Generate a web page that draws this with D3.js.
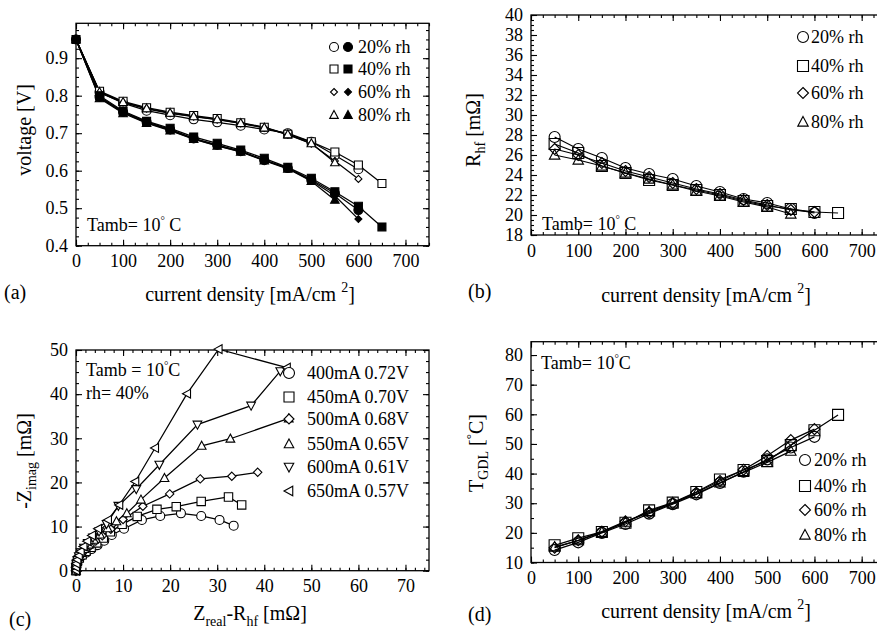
<!DOCTYPE html>
<html><head><meta charset="utf-8">
<script src="https://cdn.jsdelivr.net/npm/d3@7"></script>
<style>
body{margin:0;background:#fff}
svg{display:block}
text{font-family:"Liberation Serif","Times New Roman",serif;fill:#000}
</style>
</head><body>
<svg id="c" width="877" height="634"></svg>
<script>
// ---------------- DATA ----------------
const rhLabels = ["20% rh", "40% rh", "60% rh", "80% rh"];

// Panel (a): polarisation curves, current density [mA/cm2]
const curA = [0, 50, 100, 150, 200, 250, 300, 350, 400, 450, 500, 550, 600, 650];
const vOpen20 = [0.95, 0.810, 0.780, 0.760, 0.748, 0.737, 0.729, 0.720, 0.710, 0.700, 0.677, 0.641, 0.604];
const vOpen40 = [0.95, 0.812, 0.785, 0.768, 0.756, 0.747, 0.739, 0.728, 0.716, 0.697, 0.677, 0.650, 0.615, 0.566];
const vOpen60 = [0.95, 0.808, 0.782, 0.765, 0.753, 0.744, 0.736, 0.726, 0.714, 0.696, 0.672, 0.626, 0.578];
const vOpen80 = [0.95, 0.810, 0.783, 0.766, 0.754, 0.745, 0.737, 0.727, 0.715, 0.697, 0.673, 0.622];
const vFill20 = [0.95, 0.797, 0.757, 0.730, 0.710, 0.686, 0.669, 0.652, 0.628, 0.607, 0.576, 0.540, 0.495];
const vFill40 = [0.95, 0.800, 0.759, 0.732, 0.713, 0.690, 0.673, 0.655, 0.633, 0.609, 0.580, 0.544, 0.505, 0.450];
const vFill60 = [0.95, 0.795, 0.755, 0.728, 0.708, 0.685, 0.667, 0.651, 0.628, 0.606, 0.574, 0.533, 0.471];
const vFill80 = [0.95, 0.793, 0.753, 0.727, 0.707, 0.684, 0.666, 0.650, 0.627, 0.605, 0.572, 0.522];

// Panel (b): high frequency resistance [mOhm]
const curB = [50, 100, 150, 200, 250, 300, 350, 400, 450, 500, 550, 600, 650];
const rhf20 = [27.8, 26.6, 25.7, 24.7, 24.1, 23.6, 22.9, 22.3, 21.6, 21.2, 20.6, 20.2];
const rhf40 = [27.1, 26.2, 24.9, 24.2, 23.5, 23.0, 22.5, 22.0, 21.4, 20.9, 20.6, 20.3, 20.2];
const rhf60 = [26.6, 26.0, 25.2, 24.4, 23.8, 23.2, 22.6, 22.1, 21.5, 21.0, 20.5, 20.3];
const rhf80 = [26.0, 25.5, 24.9, 24.2, 23.6, 23.0, 22.4, 21.9, 21.3, 20.8, 20.1];

// Panel (c): Nyquist plots, rh = 40%
const nyqLabels = ["400mA 0.72V", "450mA 0.70V", "500mA 0.68V", "550mA 0.65V", "600mA 0.61V", "650mA 0.57V"];
const z400Re = [0, 0, 0.1, 0.3, 0.7, 1.3, 2.2, 3.3, 4.6, 6.0, 7.6, 10.2, 14.0, 17.9, 22.3, 26.6, 30.5, 33.5];
const z400Im = [0, 0.7, 1.4, 2.1, 2.8, 3.4, 4.1, 4.9, 5.8, 6.8, 8.1, 9.5, 11.5, 12.4, 13.0, 12.4, 11.5, 10.2];
const z450Re = [0, 0, 0.1, 0.3, 0.7, 1.3, 2.1, 3.2, 4.4, 5.8, 7.3, 9.8, 13.0, 17.2, 21.3, 26.6, 32.4, 35.2];
const z450Im = [0, 0.7, 1.4, 2.1, 2.9, 3.6, 4.4, 5.3, 6.3, 7.4, 8.8, 10.5, 12.3, 13.9, 14.5, 15.7, 16.7, 14.9];
const z500Re = [0, 0, 0.1, 0.3, 0.7, 1.2, 2.0, 3.0, 4.2, 5.6, 7.4, 10.0, 14.2, 19.9, 26.4, 33.1, 38.6];
const z500Im = [0, 0.7, 1.4, 2.2, 3.0, 3.8, 4.7, 5.6, 6.7, 7.9, 9.4, 11.6, 14.6, 17.4, 20.8, 21.4, 22.3];
const z550Re = [0, 0, 0.1, 0.3, 0.6, 1.1, 1.8, 2.7, 3.8, 5.1, 6.7, 8.6, 10.8, 13.8, 18.8, 26.7, 32.8, 45.2];
const z550Im = [0, 0.7, 1.5, 2.3, 3.1, 4.0, 4.9, 5.9, 7.0, 8.2, 9.6, 11.2, 13.0, 16.1, 21.0, 28.3, 29.9, 34.5];
const z600Re = [0, 0, 0.1, 0.3, 0.6, 1.0, 1.7, 2.5, 3.6, 4.9, 6.5, 9.0, 12.8, 17.7, 25.8, 37.2, 43.4];
const z600Im = [0, 0.8, 1.6, 2.4, 3.3, 4.2, 5.2, 6.3, 7.5, 8.9, 10.6, 14.7, 18.5, 24.0, 33.1, 37.4, 45.2];
const z650Re = [0, 0, 0.1, 0.3, 0.6, 1.0, 1.6, 2.4, 3.4, 4.7, 6.8, 9.2, 12.6, 16.8, 23.6, 30.3, 44.8];
const z650Im = [0, 0.8, 1.6, 2.5, 3.4, 4.4, 5.5, 6.7, 8.0, 9.5, 11.5, 14.9, 20.2, 27.8, 40.1, 50.2, 46.0];

// Panel (d): GDL temperature [°C]
const tgdl20 = [14.2, 16.8, 20.0, 23.0, 26.5, 29.7, 33.0, 36.8, 40.6, 44.8, 48.8, 52.4];
const tgdl40 = [15.8, 18.2, 20.3, 23.4, 27.6, 30.2, 33.8, 38.0, 41.2, 44.2, 49.6, 54.6, 59.8];
const tgdl60 = [15.0, 17.5, 20.4, 23.9, 26.8, 30.0, 33.6, 37.5, 41.3, 46.0, 51.3, 55.0];
const tgdl80 = [15.2, 17.4, 20.2, 23.6, 27.2, 30.1, 33.2, 36.9, 40.4, 43.8, 47.6];

// Tick values
const ticksCurrent = [0, 100, 200, 300, 400, 500, 600, 700];
const ticksVolt = [0.4, 0.5, 0.6, 0.7, 0.8, 0.9];
const ticksRhf = [18, 20, 22, 24, 26, 28, 30, 32, 34, 36, 38, 40];
const ticksZre = [0, 10, 20, 30, 40, 50, 60, 70];
const ticksZim = [0, 10, 20, 30, 40, 50];
const ticksT = [10, 20, 30, 40, 50, 60, 70, 80];

// ---------------- DRAWING ----------------
const svg = d3.select("#c");
const FS_TICK = 18, FS_LAB = 20, FS_LEG = 18;

function markerPath(type, s) {
  switch (type) {
    case "square": return `M${-s},${-s}h${2*s}v${2*s}h${-2*s}Z`;
    case "diamond": return `M0,${-s}L${s},0L0,${s}L${-s},0Z`;
    case "up": return `M0,${-s}L${s*0.95},${s*0.75}L${-s*0.95},${s*0.75}Z`;
    case "down": return `M0,${s}L${s*0.95},${-s*0.75}L${-s*0.95},${-s*0.75}Z`;
    case "left": return `M${-s},0L${s*0.75},${-s*0.95}L${s*0.75},${s*0.95}Z`;
  }
}
function drawMarker(g, type, cx, cy, s, fill) {
  if (type === "circle") {
    g.append("circle").attr("cx", cx).attr("cy", cy).attr("r", s)
      .attr("fill", fill).attr("stroke", "#000").attr("stroke-width", 1.1);
  } else {
    g.append("path").attr("d", markerPath(type, s)).attr("transform", `translate(${cx},${cy})`)
      .attr("fill", fill).attr("stroke", "#000").attr("stroke-width", 1.1);
  }
}

function panel(cfg) {
  const x = d3.scaleLinear().domain(cfg.xDomain).range([cfg.left, cfg.right]);
  const y = d3.scaleLinear().domain(cfg.yDomain).range([cfg.bottom, cfg.top]);
  const g = svg.append("g");
  const mk = (axis, tr, vals, size, labels, pad, fmt) => {
    const a = axis.tickValues(vals).tickSize(-size).tickPadding(pad || 8);
    a.tickFormat(labels ? fmt : () => "");
    const ag = g.append("g").attr("transform", tr).call(a);
    ag.select(".domain").remove();
    ag.selectAll("line").attr("stroke-width", 1.1);
    ag.selectAll("text").style("font-size", FS_TICK + "px").attr("font-family", null);
    return ag;
  };
  const xMinor = d3.range(cfg.xDomain[0], cfg.xDomain[1] + 1e-9, cfg.xMinor);
  const yMinor = d3.range(cfg.yDomain[0], cfg.yDomain[1] + 1e-9, cfg.yMinor);
  mk(d3.axisBottom(x), `translate(0,${cfg.bottom})`, xMinor, 3, false);
  mk(d3.axisTop(x), `translate(0,${cfg.top})`, xMinor, 3, false);
  mk(d3.axisLeft(y), `translate(${cfg.left},0)`, yMinor, 3, false);
  mk(d3.axisRight(y), `translate(${cfg.right},0)`, yMinor, 3, false);
  mk(d3.axisBottom(x), `translate(0,${cfg.bottom})`, cfg.xTicks, 6, true, 9, cfg.xFmt);
  mk(d3.axisTop(x), `translate(0,${cfg.top})`, cfg.xTicks, 6, false);
  mk(d3.axisLeft(y), `translate(${cfg.left},0)`, cfg.yTicks, 6, true, 8, cfg.yFmt);
  mk(d3.axisRight(y), `translate(${cfg.right},0)`, cfg.yTicks, 6, false);
  g.append("rect").attr("x", cfg.left).attr("y", cfg.top)
    .attr("width", cfg.right - cfg.left).attr("height", cfg.bottom - cfg.top)
    .attr("fill", "none").attr("stroke", "#000").attr("stroke-width", 1.3);
  return {x, y, g};
}

function series(P, xs, ys) {
  const pts = ys.map((v, i) => [xs[i], v]);
  P.g.append("path").datum(pts)
    .attr("d", d3.line().x(d => P.x(d[0])).y(d => P.y(d[1])))
    .attr("fill", "none").attr("stroke", "#000").attr("stroke-width", 1.25);
  return pts;
}
function marks(P, pts, type, s, fill) {
  pts.forEach(d => drawMarker(P.g, type, P.x(d[0]), P.y(d[1]), s, fill));
}

function tamb(x, y, pre, post) {
  const t = svg.append("text").attr("x", x).attr("y", y).style("font-size", "18px");
  t.append("tspan").text(pre);
  t.append("tspan").attr("dy", -7).style("font-size", "11px").text("\u00B0");
  t.append("tspan").attr("dy", 7).text(post);
  return t;
}

function currentLabel(cx, y) {
  const t = svg.append("text").attr("x", cx).attr("y", y).attr("text-anchor", "middle").style("font-size", FS_LAB + "px");
  t.append("tspan").text("current density [mA/cm ");
  t.append("tspan").attr("dy", -9).style("font-size", "14px").text("2");
  t.append("tspan").attr("dy", 9).text("]");
}

const types4 = ["circle", "square", "diamond", "up"];
const fmtD = d3.format("d");

// ===== Panel (a) =====
{
  const P = panel({left: 76, right: 429, top: 23.3, bottom: 245.7,
    xDomain: [0, 750], yDomain: [0.4, 0.993], xTicks: ticksCurrent, yTicks: ticksVolt,
    xMinor: 25, yMinor: 0.025, xFmt: fmtD, yFmt: d3.format(".1f")});
  const opens = [vOpen20, vOpen40, vOpen60, vOpen80];
  const fills = [vFill20, vFill40, vFill60, vFill80];
  const sizes = {circle: 4.5, square: 4, diamond: 3.5, up: 4.5};
  const po = opens.map(v => series(P, curA, v));
  const pf = fills.map(v => series(P, curA, v));
  po.forEach((pts, i) => marks(P, pts.slice(1), types4[i], sizes[types4[i]], "#fff"));
  pf.forEach((pts, i) => marks(P, pts, types4[i], sizes[types4[i]], "#000"));
  rhLabels.forEach((lab, i) => {
    const cy = [47, 69, 92, 115][i];
    drawMarker(svg, types4[i], 334, cy, sizes[types4[i]], "#fff");
    drawMarker(svg, types4[i], 348, cy, sizes[types4[i]], "#000");
    svg.append("text").attr("x", 358).attr("y", cy + 6).style("font-size", FS_LEG + "px").text(lab);
  });
  tamb(87, 231, "Tamb= 10", " C");
  svg.append("text").attr("transform", "translate(31,130) rotate(-90)").attr("text-anchor", "middle")
    .style("font-size", FS_LAB + "px").text("voltage [V]");
  currentLabel(250, 301);
  svg.append("text").attr("x", 4).attr("y", 299).style("font-size", FS_LAB + "px").text("(a)");
}

// ===== Panel (b) =====
{
  const P = panel({left: 531, right: 885.3, top: 15, bottom: 235,
    xDomain: [0, 750], yDomain: [18, 40], xTicks: ticksCurrent, yTicks: ticksRhf,
    xMinor: 25, yMinor: 0.5, xFmt: fmtD, yFmt: fmtD});
  const all = [rhf20, rhf40, rhf60, rhf80];
  const pts = all.map(v => series(P, curB, v));
  pts.forEach((p, i) => marks(P, p, types4[i], 5.5, "none"));
  rhLabels.forEach((lab, i) => {
    const cy = [37, 66, 93, 122][i];
    drawMarker(svg, types4[i], 803, cy, 5.5, "none");
    svg.append("text").attr("x", 811).attr("y", cy + 6).style("font-size", FS_LEG + "px").text(lab);
  });
  tamb(542, 230, "Tamb= 10", " C");
  const t = svg.append("text").attr("transform", "translate(480,130) rotate(-90)").attr("text-anchor", "middle")
    .style("font-size", FS_LAB + "px");
  t.append("tspan").text("R");
  t.append("tspan").attr("dy", 5).style("font-size", "14px").text("hf");
  t.append("tspan").attr("dy", -5).text(" [m\u03A9]");
  currentLabel(706, 302);
  svg.append("text").attr("x", 468).attr("y", 298).style("font-size", FS_LAB + "px").text("(b)");
}

// ===== Panel (c) =====
{
  const P = panel({left: 76, right: 429, top: 350, bottom: 570.7,
    xDomain: [0, 75], yDomain: [0, 50], xTicks: ticksZre, yTicks: ticksZim,
    xMinor: 2, yMinor: 2.5, xFmt: fmtD, yFmt: fmtD});
  const re = [z400Re, z450Re, z500Re, z550Re, z600Re, z650Re];
  const im = [z400Im, z450Im, z500Im, z550Im, z600Im, z650Im];
  const typ = ["circle", "square", "diamond", "up", "down", "left"];
  const sz = [4.5, 4.2, 4.2, 4.6, 4.6, 4.6];
  const pts = im.map((v, i) => series(P, re[i], v));
  pts.forEach((p, i) => marks(P, p, typ[i], sz[i], "#fff"));
  nyqLabels.forEach((lab, i) => {
    const cy = [373, 397, 419, 444, 467, 491][i];
    drawMarker(svg, typ[i], 289, cy, i === 0 ? 5.5 : 5, "#fff");
    svg.append("text").attr("x", 307).attr("y", cy + 6).style("font-size", FS_LEG + "px").text(lab);
  });
  tamb(86, 376, "Tamb = 10", "C");
  svg.append("text").attr("x", 86).attr("y", 399).style("font-size", "18px").text("rh= 40%");
  const t = svg.append("text").attr("transform", "translate(31,461) rotate(-90)").attr("text-anchor", "middle")
    .style("font-size", FS_LAB + "px");
  t.append("tspan").text("-Z");
  t.append("tspan").attr("dy", 5).style("font-size", "14px").text("imag");
  t.append("tspan").attr("dy", -5).text(" [m\u03A9]");
  const xl = svg.append("text").attr("x", 250).attr("y", 620).attr("text-anchor", "middle").style("font-size", FS_LAB + "px");
  xl.append("tspan").text("Z");
  xl.append("tspan").attr("dy", 6).style("font-size", "14px").text("real");
  xl.append("tspan").attr("dy", -6).text("-R");
  xl.append("tspan").attr("dy", 6).style("font-size", "14px").text("hf");
  xl.append("tspan").attr("dy", -6).text(" [m\u03A9]");
  svg.append("text").attr("x", 9).attr("y", 626).style("font-size", FS_LAB + "px").text("(c)");
}

// ===== Panel (d) =====
{
  const P = panel({left: 531, right: 885.3, top: 341.7, bottom: 562.5,
    xDomain: [0, 750], yDomain: [10, 84.5], xTicks: ticksCurrent, yTicks: ticksT,
    xMinor: 25, yMinor: 5, xFmt: fmtD, yFmt: fmtD});
  const all = [tgdl20, tgdl40, tgdl60, tgdl80];
  const pts = all.map(v => series(P, curB, v));
  pts.forEach((p, i) => marks(P, p, types4[i], 5.5, "none"));
  rhLabels.forEach((lab, i) => {
    const cy = [460, 486, 510, 535][i];
    drawMarker(svg, types4[i], 805, cy, 5.5, "none");
    svg.append("text").attr("x", 814).attr("y", cy + 6).style("font-size", FS_LEG + "px").text(lab);
  });
  tamb(541, 369, "Tamb= 10", "C");
  const t = svg.append("text").attr("transform", "translate(483,453) rotate(-90)").attr("text-anchor", "middle")
    .style("font-size", FS_LAB + "px");
  t.append("tspan").text("T");
  t.append("tspan").attr("dy", 5).style("font-size", "14px").text("GDL");
  t.append("tspan").attr("dy", -5).text(" [");
  t.append("tspan").attr("dy", -8).style("font-size", "13px").text("\u00B0");
  t.append("tspan").attr("dy", 8).text("C]");
  currentLabel(706, 618);
  svg.append("text").attr("x", 468).attr("y", 621).style("font-size", FS_LAB + "px").text("(d)");
}
</script>
</body></html>
